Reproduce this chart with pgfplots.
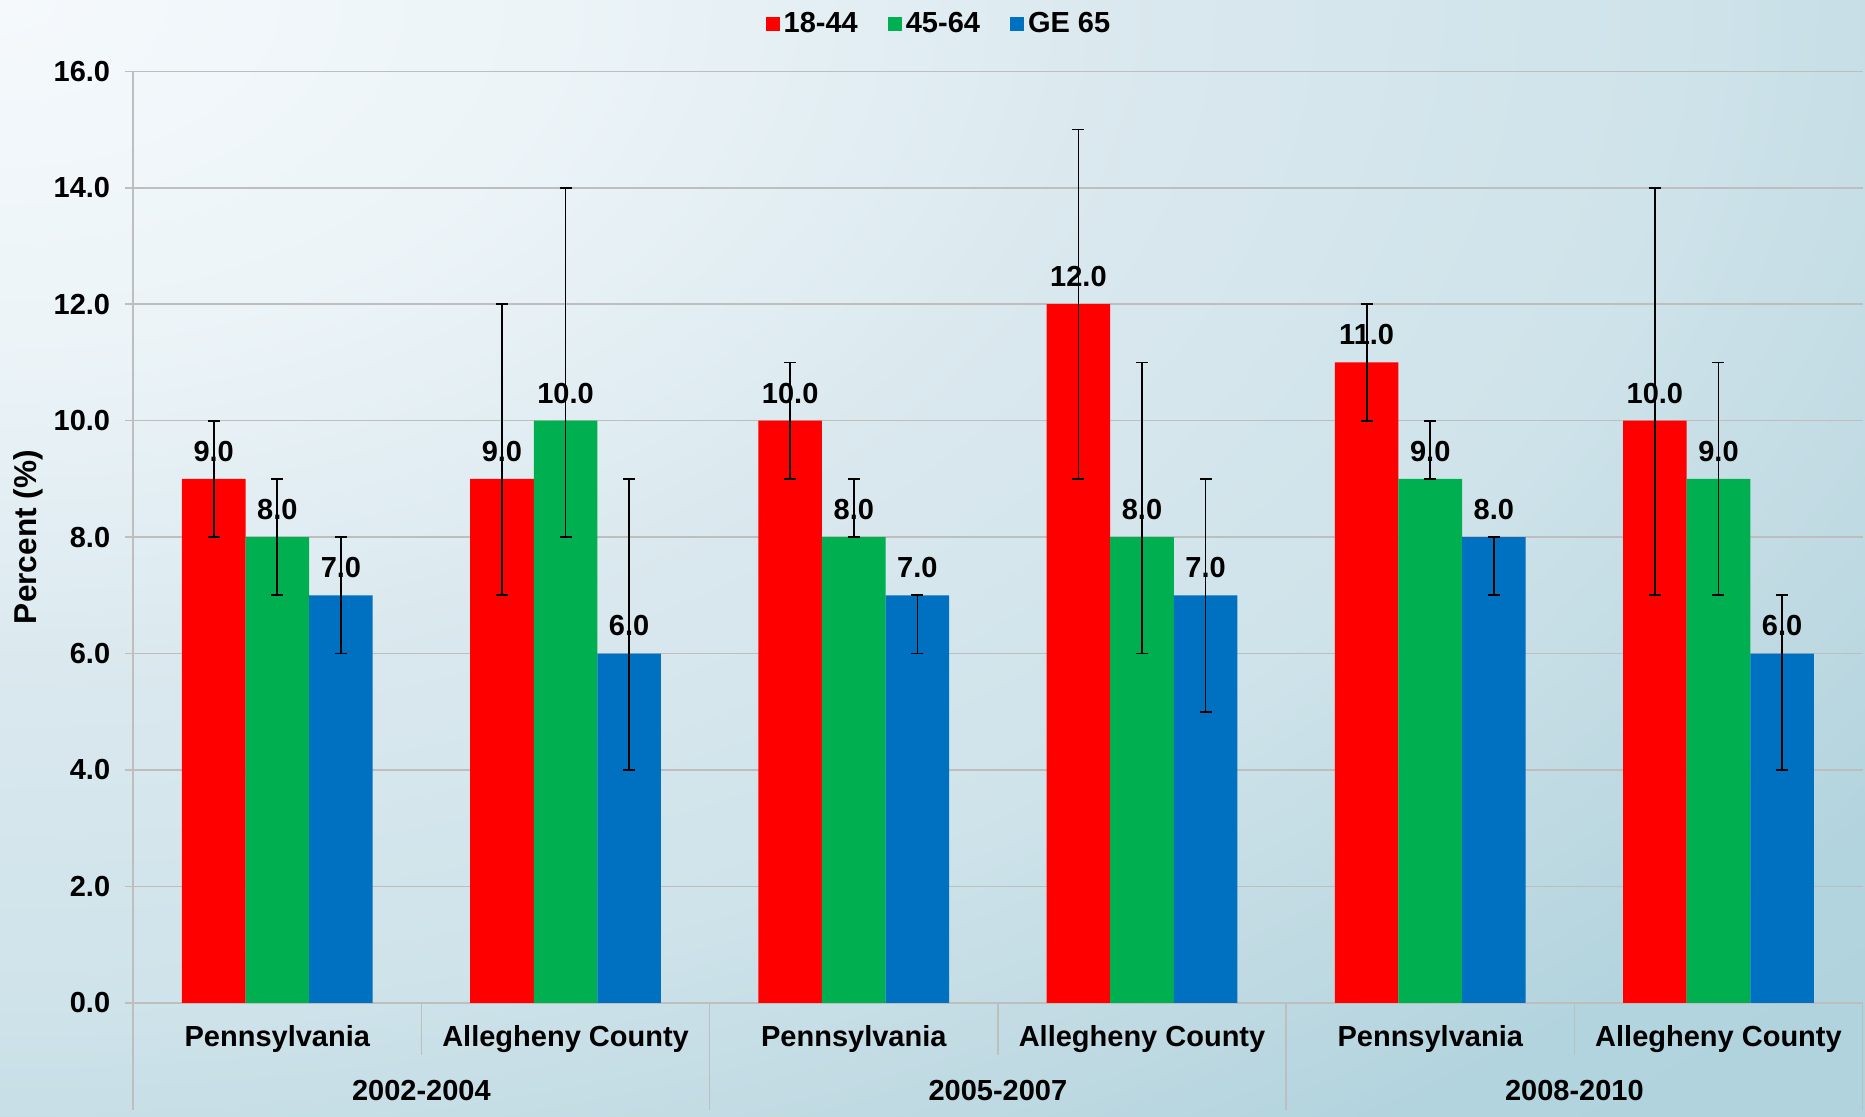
\documentclass[border=0pt]{standalone}
\usepackage{fontspec}
\setmainfont{Liberation Sans}
\usepackage{pgfplots}
\usepackage{pgfplotstable}
\pgfplotsset{compat=1.18}

\definecolor{cred}{RGB}{255,0,0}
\definecolor{cgreen}{RGB}{0,176,80}
\definecolor{cblue}{RGB}{0,112,192}
\definecolor{gridc}{RGB}{190,190,190}
\definecolor{bg0}{RGB}{245,249,252}
\definecolor{bg1}{RGB}{236,244,248}
\definecolor{bg2}{RGB}{217,232,238}
\definecolor{bg3}{RGB}{207,227,234}
\definecolor{bg4}{RGB}{190,217,226}
\definecolor{bg5}{RGB}{178,212,222}
\definecolor{bg6}{RGB}{171,207,218}

% radii scaled down: tikz fits the shading's corners to the box
\pgfdeclareradialshading{bgshade}{\pgfpoint{0bp}{0bp}}{%
  color(0bp)=(bg0); color(7.5bp)=(bg1); color(15.6bp)=(bg2); color(22.4bp)=(bg3);
  color(28bp)=(bg4); color(31.2bp)=(bg5); color(46.6bp)=(bg6)}

\newcommand\fs{\fontsize{14.5pt}{17pt}\selectfont\bfseries}

% x, value, error plus, error minus
\pgfplotstableread{
x y ep em
0 9 1 1
1 9 3 2
2 10 1 1
3 12 3 3
4 11 1 1
5 10 4 3
}\tYoung
\pgfplotstableread{
x y ep em
0 8 1 1
1 10 4 2
2 8 1 0
3 8 3 2
4 9 1 0
5 9 2 2
}\tMid
\pgfplotstableread{
x y ep em
0 7 1 1
1 6 3 2
2 7 0 1
3 7 2 2
4 8 0 1
5 6 1 2
}\tOld

\begin{document}
\begin{tikzpicture}
\begin{scope}
  \clip (0,0) rectangle (932.5pt,558.5pt);
  \shade[shading=bgshade] (-932.5pt,0pt) rectangle (932.5pt,1117pt);
\end{scope}
\useasboundingbox (0,0) rectangle (932.5pt,558.5pt);

\begin{axis}[
    at={(66.6pt,57.1pt)}, anchor=south west,
    scale only axis,
    width=864.7pt, height=465.7pt,
    ybar=0pt, bar width=31.8pt,
    xmin=-0.5, xmax=5.5,
    ymin=0, ymax=16,
    ytick={0,2,...,16},
    xtick={0,...,5},
    xticklabels={Pennsylvania, Allegheny County, Pennsylvania, Allegheny County, Pennsylvania, Allegheny County},
    axis x line*=bottom, axis y line*=left,
    axis line style={draw=gridc, line width=0.8pt},
    ymajorgrids, grid style={draw=gridc, line width=0.8pt},
    tick align=outside, major tick length=4pt,
    ytick style={draw=gridc, line width=0.8pt},
    xtick style={draw=none},
    tick label style={font=\fs},
    yticklabel style={xshift=-4pt, /pgf/number format/.cd, fixed, fixed zerofill, precision=1, assume math mode=true},
    xticklabel style={anchor=base, yshift=-18pt},
    ylabel={Percent (\%)},
    every axis y label/.style={at={([xshift=-52.6pt]axis description cs:0,0.5)}, rotate=90, anchor=center,
      font=\fontsize{15.8pt}{18pt}\selectfont\bfseries},
    nodes near coords={\pgfmathprintnumber[fixed, fixed zerofill, precision=1, assume math mode=true]{\pgfplotspointmeta}},
    every node near coord/.append style={font=\fs, black, anchor=base, yshift=8.8pt},
    error bars/y dir=both, error bars/y explicit,
    error bars/error bar style={black, line width=0.85pt},
    error bars/error mark options={black, line width=0.85pt, mark size=3pt, rotate=90},
    legend columns=3,
    legend style={draw=none, fill=none, font=\fs,
      at={(0.4665,1.0509)}, anchor=center,
      /tikz/every even column/.append style={column sep=13pt}},
    legend image code/.code={\fill[#1] (0pt,-3.5pt) rectangle (7pt,3.5pt);},
    clip=false,
]
\addplot[fill=cred, draw=none] table[x=x, y=y, y error plus=ep, y error minus=em]{\tYoung};
\addlegendentry{18-44}
\addplot[fill=cgreen, draw=none] table[x=x, y=y, y error plus=ep, y error minus=em]{\tMid};
\addlegendentry{45-64}
\addplot[fill=cblue, draw=none] table[x=x, y=y, y error plus=ep, y error minus=em]{\tOld};
\addlegendentry{GE 65}

% separators below the axis
\draw[gridc, line width=0.8pt] (axis cs:-0.5,0) -- ([yshift=-53.5pt]axis cs:-0.5,0);
\draw[gridc, line width=0.8pt] (axis cs:1.5,0) -- ([yshift=-53.5pt]axis cs:1.5,0);
\draw[gridc, line width=0.8pt] (axis cs:3.5,0) -- ([yshift=-53.5pt]axis cs:3.5,0);
\draw[gridc, line width=0.8pt] (axis cs:5.5,0) -- ([yshift=-53.5pt]axis cs:5.5,0);
\draw[gridc, line width=0.8pt] (axis cs:0.5,0) -- ([yshift=-26pt]axis cs:0.5,0);
\draw[gridc, line width=0.8pt] (axis cs:2.5,0) -- ([yshift=-26pt]axis cs:2.5,0);
\draw[gridc, line width=0.8pt] (axis cs:4.5,0) -- ([yshift=-26pt]axis cs:4.5,0);
\node[font=\fs, anchor=base] at ([yshift=-49pt]axis cs:0.5,0) {2002-2004};
\node[font=\fs, anchor=base] at ([yshift=-49pt]axis cs:2.5,0) {2005-2007};
\node[font=\fs, anchor=base] at ([yshift=-49pt]axis cs:4.5,0) {2008-2010};
\end{axis}
\end{tikzpicture}
\end{document}
